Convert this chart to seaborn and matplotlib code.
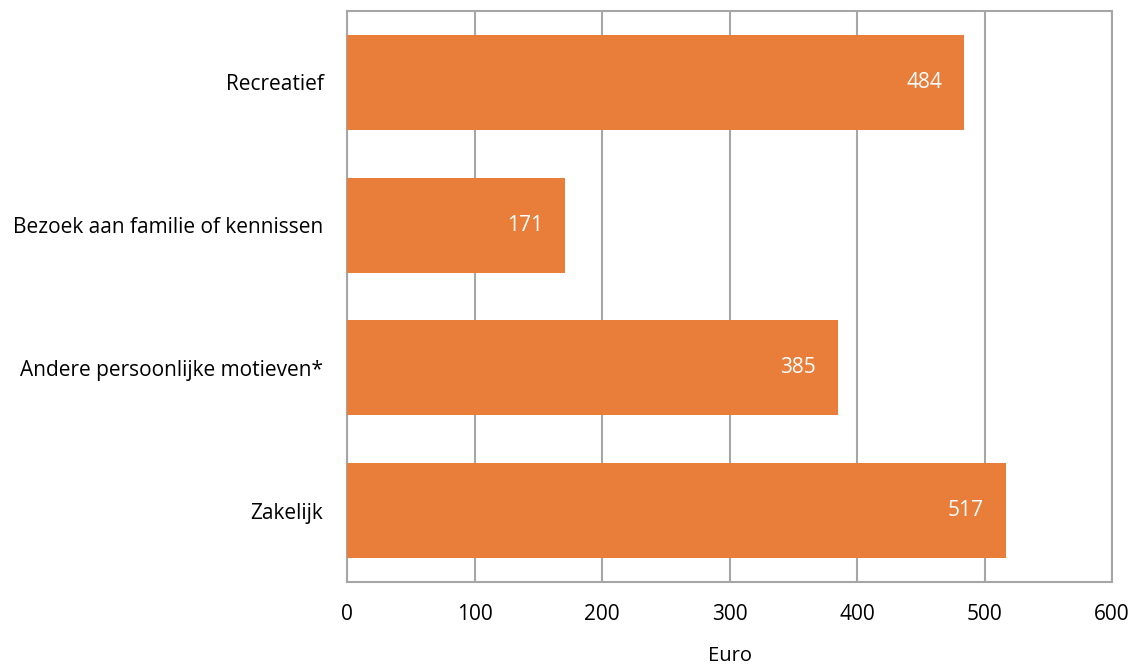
import matplotlib
matplotlib.use("Agg")
import matplotlib.pyplot as plt
import seaborn as sns
import pandas as pd

categories = ["Recreatief", "Bezoek aan familie of kennissen", "Andere persoonlijke motieven*", "Zakelijk"]
values = [484, 171, 385, 517]
xticks = [0, 100, 200, 300, 400, 500, 600]

sns.set_theme(style="white")
plt.rcParams['font.family'] = ['Open Sans', 'DejaVu Sans']

df = pd.DataFrame({"cat": categories, "val": values})

fig = plt.figure(figsize=(11.36, 6.65), dpi=100)
ax = fig.add_axes([347/1136, 1-582/665, (1112-347)/1136, (582-11)/665])

bar_color = "#E97E3B"
sns.barplot(data=df, x="val", y="cat", color=bar_color, saturation=1, width=0.666,
            orient="h", ax=ax, zorder=3, edgecolor="none")

ax.set_xlim(0, 600)
ax.set_xticks(xticks)
ax.set_xticklabels([str(t) for t in xticks])
ax.xaxis.grid(True, color="#A6A6A6", linewidth=1.5, zorder=0)
ax.yaxis.grid(False)
ax.set_axisbelow(True)
for s in ax.spines.values():
    s.set_visible(True)
    s.set_color("#A6A6A6")
    s.set_linewidth(1.5)

ax.tick_params(axis="x", length=0, pad=16, labelsize=15, colors="black")
ax.tick_params(axis="y", length=0, pad=17, labelsize=15, colors="black")
ax.set_ylabel("")
ax.set_xlabel("Euro", fontsize=14.5, labelpad=15, color="black")

for i, v in enumerate(values):
    ax.annotate(str(v), xy=(v, i), xytext=(-16, 0), textcoords="offset points",
                ha="right", va="center", color="white", fontsize=15, zorder=5)

fig.savefig("out.png", dpi=100)
